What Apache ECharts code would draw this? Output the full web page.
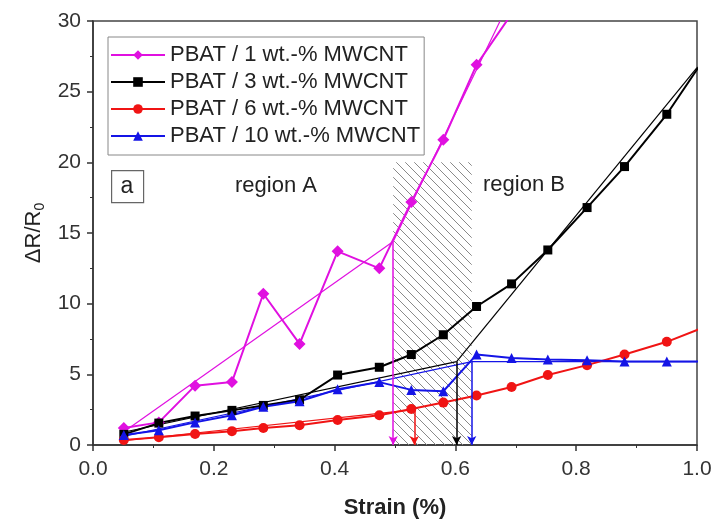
<!DOCTYPE html>
<html><head><meta charset="utf-8">
<script src="https://cdn.jsdelivr.net/npm/echarts@6/dist/echarts.min.js"></script>
<style>html,body{margin:0;padding:0;background:#fff}#c{width:720px;height:529px}</style>
</head><body><div id="c"></div>
<script>
// ---- data ----
const strain = [0.051,0.109,0.169,0.23,0.282,0.342,0.405,0.474,0.527,0.58,0.635,0.693,0.753,0.818,0.88,0.95,1.01];
const pbat1  = [1.2,1.6,4.2,4.45,10.7,7.15,13.7,12.5,17.2,21.6,26.9,30.5];
const pbat3  = [0.75,1.55,2.05,2.45,2.8,3.2,4.95,5.5,6.4,7.8,9.8,11.4,13.8,16.8,19.7,23.4,27.2];
const pbat6  = [0.35,0.55,0.78,0.98,1.2,1.4,1.77,2.1,2.55,3.0,3.5,4.1,4.95,5.65,6.4,7.3,8.3];
const pbat10 = [0.7,1.05,1.6,2.1,2.7,3.1,3.95,4.45,3.9,3.8,6.4,6.15,6.05,6.0,5.9,5.9,5.9];
const names = ['PBAT / 1 wt.-% MWCNT','PBAT / 3 wt.-% MWCNT','PBAT / 6 wt.-% MWCNT','PBAT / 10 wt.-% MWCNT'];
// linear fits (region A, region B) and onset strains
const fit1A = [[0.05,0.9],[0.497,14.4]],  fit1B = [[0.497,14.4],[0.674,30]];
const fit3A = [[0.05,0.9],[0.602,5.9]],   fit3B = [[0.602,5.9],[1.0,26.7]];
const fit6A = [[0.05,0.3],[0.532,2.5]];
const fit10A = [[0.05,0.6],[0.627,5.9]],  fit10B = [[0.627,5.9],[1.0,5.9]];
const onset = [[0.497,14.4],[0.602,5.9],[0.532,2.5],[0.627,5.9]];
const transition = [[0.497,0],[0.627,20]];
const xTicks = [0,1,0.2];
const yTicks = [0,30,5];

const colors = ['#e010e0','#000000','#f01414','#1414e6'];
const symbols = ['diamond','rect','circle','triangle'];
const symSizes = [12,9,10,10];
const vals = [pbat1,pbat3,pbat6,pbat10];
const fits = [[fit1A,fit1B],[fit3A,fit3B],[fit6A],[fit10A,fit10B]];

// hatch pattern
const T = 9;
const pc = document.createElement('canvas');
pc.width = T; pc.height = T;
const g = pc.getContext('2d');
g.strokeStyle = '#8a8a8a'; g.lineWidth = 1;
g.beginPath();
g.moveTo(-1,-1); g.lineTo(T+1,T+1);
g.moveTo(-1,T-1); g.lineTo(1,T+1);
g.moveTo(T-1,-1); g.lineTo(T+1,1);
g.stroke();

const series = [];
series.push({
  type:'line', data:[], silent:true, z:1,
  markArea:{silent:true, itemStyle:{color:{image:pc, repeat:'repeat'}},
    data:[[{coord:transition[0]},{coord:transition[1]}]]}
});
vals.forEach((v,i)=>{
  fits[i].forEach((f,k)=>{
    const s = {type:'line', name:'fit'+i+k, data:f, showSymbol:false, silent:true, z:3,
      lineStyle:{color:colors[i], width:1.2}, itemStyle:{color:colors[i]}};
    if(k===0){
      s.markLine = {silent:true, symbol:['none','arrow'], symbolSize:[7,9], label:{show:false},
        lineStyle:{color:colors[i], width:1.5, type:'solid'},
        data:[[{coord:onset[i]},{coord:[onset[i][0],0]}]]};
    }
    series.push(s);
  });
});
vals.forEach((v,i)=>{
  series.push({type:'line', name:names[i], data:v.map((y,j)=>[strain[j],y]),
    symbol:symbols[i], symbolSize:symSizes[i], clip:true, z:4,
    lineStyle:{color:colors[i], width:2}, itemStyle:{color:colors[i]}});
});

const chart = echarts.init(document.getElementById('c'));
chart.setOption({
  animation:false,
  grid:{left:93, right:23, top:21, bottom:84, show:true, borderColor:'#444', borderWidth:1.5},
  legend:{data:names, left:108, top:37, orient:'vertical', padding:[7,4,8,2], itemGap:5,
    itemWidth:54, itemHeight:12, borderColor:'#888', borderWidth:1, backgroundColor:'#fff',
    textStyle:{fontFamily:'Liberation Sans', fontSize:22, color:'#222', lineHeight:22}},
  xAxis:{type:'value', min:xTicks[0], max:xTicks[1], interval:xTicks[2],
    name:'Strain (%)', nameLocation:'middle', nameGap:52,
    nameTextStyle:{fontFamily:'Liberation Sans', fontSize:22, fontWeight:'bold', color:'#222'},
    axisLine:{lineStyle:{color:'#333', width:1.5}},
    axisTick:{length:6, lineStyle:{color:'#333', width:1.5}},
    minorTick:{show:true, splitNumber:2, length:3, lineStyle:{color:'#333'}},
    splitLine:{show:false},
    axisLabel:{margin:14, fontFamily:'Liberation Sans', fontSize:21, color:'#333',
      formatter:v=>v.toFixed(1)}},
  yAxis:{type:'value', min:yTicks[0], max:yTicks[1], interval:yTicks[2],
    name:'{a|ΔR/R}{s|0}', nameLocation:'middle', nameGap:46,
    nameTextStyle:{rich:{a:{fontFamily:'Liberation Sans', fontSize:22, color:'#222'},
      s:{fontFamily:'Liberation Sans', fontSize:14, color:'#222', verticalAlign:'bottom', padding:[12,0,0,0]}}},
    axisLine:{lineStyle:{color:'#333', width:1.5}},
    axisTick:{length:6, lineStyle:{color:'#333', width:1.5}},
    minorTick:{show:true, splitNumber:2, length:3, lineStyle:{color:'#333'}},
    splitLine:{show:false},
    axisLabel:{margin:12, fontFamily:'Liberation Sans', fontSize:21, color:'#333'}},
  graphic:[
    {type:'rect', left:111, top:170, shape:{width:32, height:32}, style:{fill:'#fff', stroke:'#666', lineWidth:1.2}, z:10},
    {type:'text', x:127, y:187, style:{text:'a', font:'23px "Liberation Sans"', fill:'#222', align:'center', verticalAlign:'middle'}, z:11},
    {type:'text', left:235, top:175, style:{text:'region A', font:'22px "Liberation Sans"', fill:'#222'}, z:11},
    {type:'text', left:483, top:174, style:{text:'region B', font:'22px "Liberation Sans"', fill:'#222'}, z:11}
  ],
  series:series
});
</script></body></html>
